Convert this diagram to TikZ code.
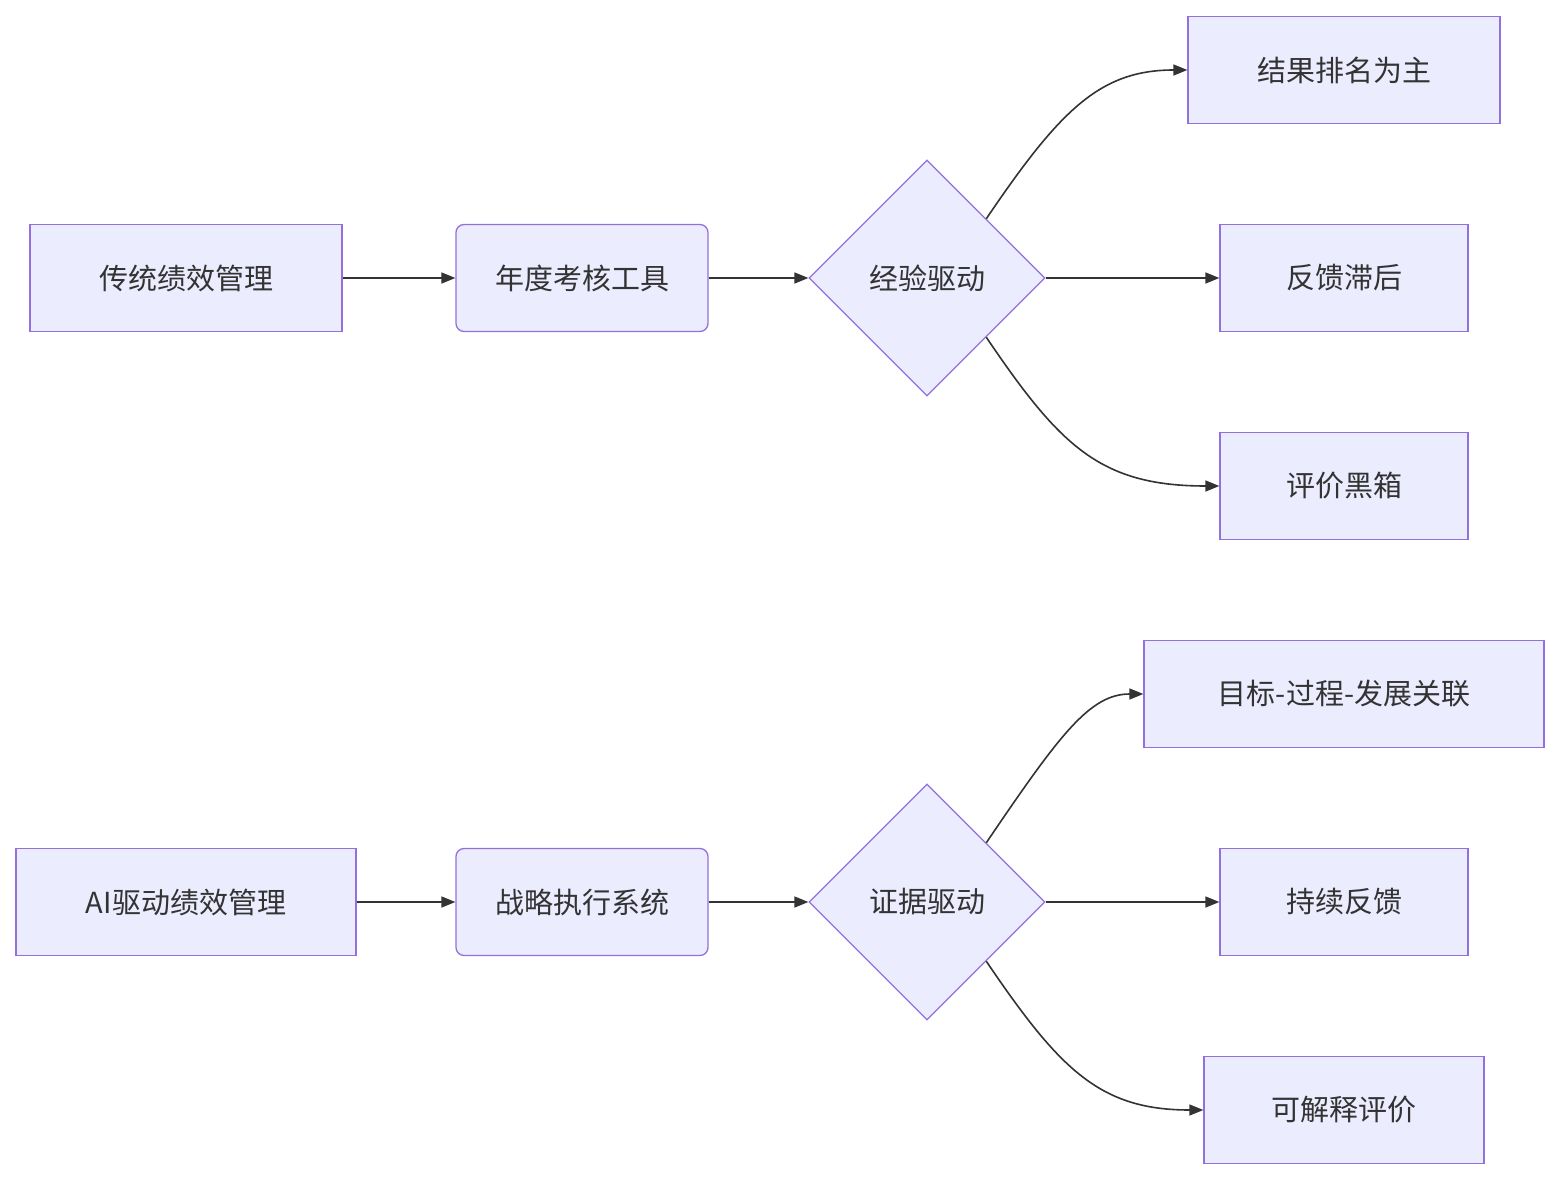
\documentclass[tikz,border=0pt]{standalone}
\usepackage{fontspec}
\setmainfont{Noto Sans CJK SC}
\usetikzlibrary{shapes.geometric,arrows.meta}
\begin{document}
\begin{tikzpicture}[x=1pt,y=-1pt,
  box/.style={draw=violet1,fill=fill1,line width=1.3pt,minimum height=107pt,inner sep=0pt,font=\fontsize{29}{30}\selectfont,text=txt},
  dia/.style={draw=violet1,fill=fill1,line width=1.3pt,diamond,minimum width=236pt,minimum height=236pt,inner sep=0pt,font=\fontsize{29}{30}\selectfont,text=txt},
  arr/.style={draw=txt,line width=1.6pt,-{Triangle[length=14pt,width=11pt]}}]
\definecolor{violet1}{HTML}{9370DB}
\definecolor{fill1}{HTML}{ECECFF}
\definecolor{txt}{HTML}{333333}
\useasboundingbox (0,0) rectangle (1559,1180);
\foreach \o/\p in {0/a,624/b}{}
% top
\node[box,minimum width=312pt] (A) at (186,278) {传统绩效管理};
\node[box,minimum width=252pt,rounded corners=8pt] (B) at (582,278) {年度考核工具};
\node[dia] (C) at (927,278) {经验驱动};
\node[box,minimum width=312pt] (D1) at (1344,70) {结果排名为主};
\node[box,minimum width=248pt] (D2) at (1344,278) {反馈滞后};
\node[box,minimum width=248pt] (D3) at (1344,486) {评价黑箱};
\draw[arr] (A) -- (B);
\draw[arr] (B) -- (C);
\draw[arr] (C) -- (D2);
\draw[arr] (C.north east) .. controls (1060,110) and (1100,70) .. (D1.west);
\draw[arr] (C.south east) .. controls (1060,446) and (1100,486) .. (D3.west);
% bottom
\node[box,minimum width=340pt] (A2) at (186,902) {AI驱动绩效管理};
\node[box,minimum width=252pt,rounded corners=8pt] (B2) at (582,902) {战略执行系统};
\node[dia] (C2) at (927,902) {证据驱动};
\node[box,minimum width=400pt] (E1) at (1344,694) {目标-过程-发展关联};
\node[box,minimum width=248pt] (E2) at (1344,902) {持续反馈};
\node[box,minimum width=280pt] (E3) at (1344,1110) {可解释评价};
\draw[arr] (A2) -- (B2);
\draw[arr] (B2) -- (C2);
\draw[arr] (C2) -- (E2);
\draw[arr] (C2.north east) .. controls (1060,734) and (1090,694) .. (E1.west);
\draw[arr] (C2.south east) .. controls (1060,1070) and (1100,1110) .. (E3.west);
\end{tikzpicture}
\end{document}
